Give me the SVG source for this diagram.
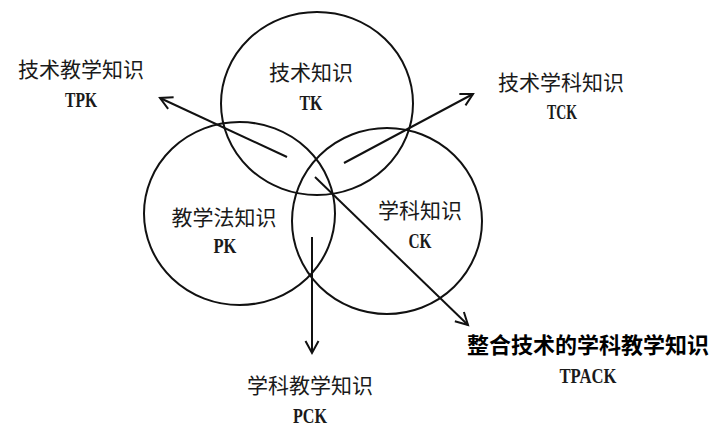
<svg xmlns="http://www.w3.org/2000/svg" width="714" height="429" viewBox="0 0 714 429">
<defs>
<marker id="arr" markerUnits="userSpaceOnUse" markerWidth="20" markerHeight="20" viewBox="-14 -10 20 20" refX="0" refY="0" orient="auto">
<path d="M -12 -6.5 L 0 0 L -12 6.5" fill="none" stroke="#111" stroke-width="2" stroke-linejoin="miter"/>
</marker>
<style>
.c{fill:none;stroke:#111;stroke-width:2}
.a{fill:none;stroke:#111;stroke-width:2}
.cn{font-family:"Noto Sans CJK SC","Noto Sans CJK JP",sans-serif;font-size:21px;fill:#1a1a1a;text-anchor:middle}
.b{font-weight:bold;font-size:22px;fill:#000}
.en{font-family:"Liberation Serif",serif;font-weight:bold;font-size:21px;fill:#1a1a1a;text-anchor:middle}
</style>
</defs>
<rect width="714" height="429" fill="#fff"/>
<g id="TK">
<ellipse class="c" cx="317" cy="103.5" rx="96" ry="91.5"/>
<text class="cn" x="311" y="80">技术知识</text>
<text class="en" x="311" y="110" textLength="23" lengthAdjust="spacingAndGlyphs">TK</text>
</g>
<g id="PK">
<ellipse class="c" cx="239.5" cy="213.5" rx="95.5" ry="91.5"/>
<text class="cn" x="224" y="225">教学法知识</text>
<text class="en" x="225" y="253" textLength="23" lengthAdjust="spacingAndGlyphs">PK</text>
</g>
<g id="CK">
<ellipse class="c" cx="387" cy="221" rx="95" ry="93"/>
<text class="cn" x="420" y="218">学科知识</text>
<text class="en" x="420" y="248" textLength="23" lengthAdjust="spacingAndGlyphs">CK</text>
</g>
<g id="TPK">
<text class="cn" x="81" y="77">技术教学知识</text>
<text class="en" x="81" y="107" textLength="32" lengthAdjust="spacingAndGlyphs">TPK</text>
</g>
<g id="TCK">
<text class="cn" x="561" y="90">技术学科知识</text>
<text class="en" x="562" y="119" textLength="30" lengthAdjust="spacingAndGlyphs">TCK</text>
</g>
<g id="TPACK">
<text class="cn b" x="588" y="353">整合技术的学科教学知识</text>
<text class="en" x="588" y="383" textLength="57" lengthAdjust="spacingAndGlyphs" fill="#000">TPACK</text>
</g>
<g id="PCK">
<text class="cn" x="310" y="393">学科教学知识</text>
<text class="en" x="310" y="423" textLength="34" lengthAdjust="spacingAndGlyphs">PCK</text>
</g>
<g id="connectors">
<line class="a" x1="287" y1="157" x2="160" y2="98" marker-end="url(#arr)"/>
<line class="a" x1="344" y1="163" x2="473" y2="94" marker-end="url(#arr)"/>
<line class="a" x1="315" y1="177" x2="468" y2="325" marker-end="url(#arr)"/>
<line class="a" x1="312" y1="237" x2="312" y2="353" marker-end="url(#arr)"/>
</g>
</svg>
